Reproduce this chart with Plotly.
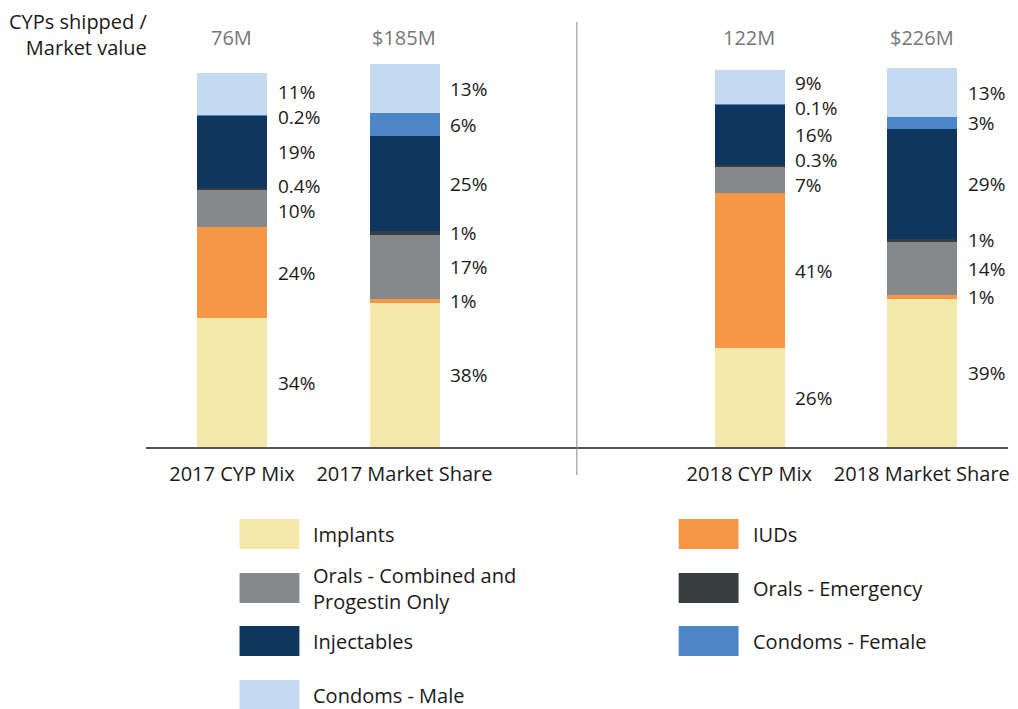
import plotly.graph_objects as go

W, H = 1018, 709

categories = ["2017 CYP Mix", "2017 Market Share", "2018 CYP Mix", "2018 Market Share"]
totals = ["76M", "$185M", "122M", "$226M"]
methods = ["Implants", "IUDs", "Orals - Combined and<br>Progestin Only", "Orals - Emergency",
           "Injectables", "Condoms - Female", "Condoms - Male"]
colors = ["#F3E7AA", "#F79646", "#86898B", "#383D3D", "#0E365F", "#4D86C6", "#C5D9F0"]
implants = [34, 38, 26, 39]
iuds = [24, 1, 41, 1]
orals_combined = [10, 17, 7, 14]
orals_emergency = [0.4, 1, 0.3, 1]
injectables = [19, 25, 16, 29]
condoms_female = [0.2, 6, 0.1, 3]
condoms_male = [11, 13, 9, 13]
series = [implants, iuds, orals_combined, orals_emergency, injectables, condoms_female, condoms_male]

xpos = [0, 1, 3, 4]
FONT = "Open Sans"
FS = 20
FSV = 19

def px(x):
    return x / W

def py(y):
    return 1 - y / H

fig = go.Figure()
for name, col, vals in zip(methods, colors, series):
    fig.add_trace(go.Bar(x=xpos, y=vals, name=name, marker=dict(color=col, line=dict(width=0)),
                         width=0.405, showlegend=False, hoverinfo="skip"))

annotations = []
# value labels to the right of bars, de-overlapped
gap = 6.6
for j, xp in enumerate(xpos):
    vals = [s[j] for s in series]
    cum = 0
    mids = []
    for v in vals:
        mids.append(cum + v / 2)
        cum += v
    ys = mids[:]
    for _ in range(300):
        for i in range(1, len(ys)):
            d = ys[i] - ys[i - 1]
            if d < gap:
                s = (gap - d) / 2
                ys[i] += s
                ys[i - 1] -= s
    for v, yv in zip(vals, ys):
        txt = (f"{v:g}%")
        annotations.append(dict(x=xp + 0.255, y=yv, xref="x", yref="y", text=txt, showarrow=False,
                                xanchor="left", yanchor="middle",
                                font=dict(family=FONT, size=FSV, color="#1a1a1a")))
    annotations.append(dict(x=xp, y=py(37), xref="x", yref="paper", text=totals[j], showarrow=False,
                            xanchor="center", yanchor="middle",
                            font=dict(family=FONT, size=FS, color="#777777")))

annotations.append(dict(x=px(150), y=py(34), xref="paper", yref="paper",
                        text="CYPs shipped /<br>Market value", showarrow=False, align="right",
                        xanchor="right", yanchor="middle",
                        font=dict(family=FONT, size=FS, color="#1a1a1a")))

shapes = [dict(type="line", xref="x", yref="paper", x0=2, x1=2, y0=py(22), y1=py(475),
               line=dict(color="#888888", width=1))]

# custom legend
leg_pos = [(240, 534), (680, 534), (240, 588), (680, 588), (240, 641), (680, 641), (240, 695)]
for (lx, ly), name, col in zip(leg_pos, methods, colors):
    shapes.append(dict(type="rect", xref="paper", yref="paper", x0=px(lx), x1=px(lx + 60),
                       y0=py(ly - 15), y1=py(ly + 15), fillcolor=col, line=dict(width=0)))
    annotations.append(dict(x=px(lx + 72), y=py(ly), xref="paper", yref="paper", text=name,
                            showarrow=False, xanchor="left", yanchor="middle", align="left",
                            font=dict(family=FONT, size=FS, color="#1a1a1a")))

fig.update_layout(
    width=W, height=H, barmode="stack", bargap=0,
    margin=dict(l=0, r=0, t=0, b=0),
    plot_bgcolor="white", paper_bgcolor="white",
    xaxis=dict(domain=[px(146), px(1010)], range=[-0.5, 4.5], tickvals=xpos, ticktext=categories,
               showline=True, linecolor="#555555", linewidth=2, showgrid=False, zeroline=False,
               ticks="", ticklabelstandoff=8,
               tickfont=dict(family=FONT, size=FS, color="#1a1a1a")),
    yaxis=dict(domain=[py(447), py(30)], range=[0, 417 / 3.79], visible=False, showgrid=False),
    annotations=annotations, shapes=shapes,
)

fig.write_html("out.html", config={"displayModeBar": False},
               post_script="document.body.style.margin='0';document.body.style.overflow='hidden';")
